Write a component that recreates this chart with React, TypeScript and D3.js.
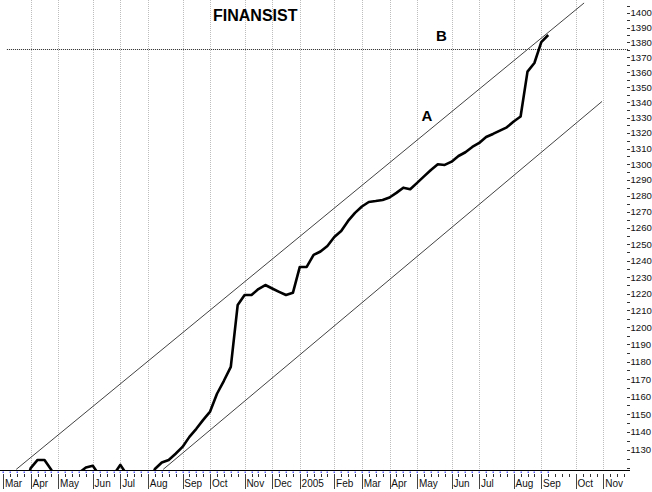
import { useRef, useEffect } from 'react';
import * as d3 from 'd3';

// weekly slots on the time axis, Mar 2004 .. Nov 2005
const WEEK_COUNT = 91;

const MONTH_LABELS = ['Mar', 'Apr', 'May', 'Jun', 'Jul', 'Aug', 'Sep', 'Oct', 'Nov', 'Dec', '2005',
  'Feb', 'Mar', 'Apr', 'May', 'Jun', 'Jul', 'Aug', 'Sep', 'Oct', 'Nov'];
const MONTH_WEEKS = [0, 4, 8, 13, 17, 21, 26, 30, 35, 39, 43, 48, 52, 56, 60, 65, 69, 74, 78, 83, 87];

// weekly closes, one per week starting at week 0 (values under ~1120 fall off the chart)
const CLOSE = [
  1100, 1102, 1105, 1108, 1120, 1124.5, 1124.5, 1119, 1108, 1105,
  1108, 1117.4, 1120.4, 1121.3, 1115.8, 1110, 1116.3, 1121.8, 1116, 1104,
  1102, 1110, 1119.5, 1123.1, 1124.5, 1127.9, 1131.7, 1137.3, 1141.8, 1146.8,
  1151.5, 1161.6, 1169, 1177, 1213.3, 1219.2, 1219.2, 1222.8, 1225.2, 1223.1,
  1221.1, 1219.2, 1220.5, 1236.1, 1236.1, 1243.4, 1245.5, 1248.9, 1254.4, 1258.1,
  1264.3, 1269.3, 1273.3, 1276.1, 1276.7, 1277.4, 1278.9, 1281.8, 1285.1, 1284.1,
  1288.1, 1292.2, 1296.3, 1299.9, 1299.5, 1301.6, 1305.2, 1307.6, 1311, 1313.6,
  1317.4, 1319.4, 1321.6, 1323.7, 1327.5, 1330.7, 1360.3, 1366.1, 1380.2, 1385,
];

// channel lines: [week, value] end points
const CHANNEL_UPPER: [number, number][] = [[1.9, 1119.3], [84.2, 1406.9]];
const CHANNEL_LOWER: [number, number][] = [[23.2, 1119.3], [86.8, 1340.6]];

// horizontal level "B"
const LEVEL_B = 1375.5;
const LEVEL_B_WEEKS = [0.55, 90.6];

const Y_LABELS = d3.range(1130, 1401, 10);
const Y_MINOR = d3.range(1120, 1406, 5);

const FONT = 'Liberation Sans, Arial, Helvetica, sans-serif';

export default function App() {
  const svgRef = useRef<SVGSVGElement>(null);

  useEffect(() => {
    if (!svgRef.current) return;
    const width = 652;
    const h = 492;
    const plotBottom = 470;
    const plotRight = 630;

    const svg = d3.select(svgRef.current);
    svg.selectAll('*').remove();
    svg.attr('width', width).attr('height', h).attr('viewBox', `0 0 ${width} ${h}`);

    svg.append('rect').attr('width', width).attr('height', h).attr('fill', '#fff');

    const x = d3.scaleLinear().domain([0, 90]).range([3.1, 624.1]);
    const y = d3.scaleLog().domain([1130, 1400]).range([450, 13]);
    const crisp = (v: number) => Math.round(v) + 0.5;

    // Grid (first month sits on the left edge, no line there)
    svg.append('g')
      .selectAll('line')
      .data(MONTH_WEEKS.slice(1))
      .join('line')
      .attr('x1', d => crisp(x(d))).attr('x2', d => crisp(x(d)))
      .attr('y1', 0).attr('y2', plotBottom)
      .attr('stroke', '#bdbdbd')
      .attr('stroke-dasharray', '1,1');

    svg.append('defs').append('clipPath').attr('id', 'plot-clip')
      .append('rect').attr('x', 0).attr('y', 0).attr('width', plotRight + 2).attr('height', plotBottom);

    const plot = svg.append('g').attr('clip-path', 'url(#plot-clip)');

    const seg = d3.line<[number, number]>().x(d => x(d[0])).y(d => y(d[1]));

    // Channel
    [CHANNEL_UPPER, CHANNEL_LOWER].forEach(pts => {
      plot.append('path')
        .attr('d', seg(pts))
        .attr('fill', 'none')
        .attr('stroke', '#111')
        .attr('stroke-width', 0.8);
    });

    // Level B
    plot.append('line')
      .attr('x1', x(LEVEL_B_WEEKS[0])).attr('x2', x(LEVEL_B_WEEKS[1]))
      .attr('y1', crisp(y(LEVEL_B))).attr('y2', crisp(y(LEVEL_B)))
      .attr('stroke', '#222')
      .attr('stroke-dasharray', '1,1');

    // Close line
    const line = d3.line<number>()
      .x((_, i) => x(i))
      .y(d => y(d));

    plot.append('path')
      .datum(CLOSE)
      .attr('fill', 'none')
      .attr('stroke', '#000')
      .attr('stroke-width', 2.6)
      .attr('stroke-linejoin', 'round')
      .attr('d', line);

    // Bottom axis
    svg.append('line')
      .attr('x1', 0).attr('x2', plotRight)
      .attr('y1', plotBottom + 0.5).attr('y2', plotBottom + 0.5)
      .attr('stroke', '#000');

    // blue dots per data week
    svg.append('g')
      .selectAll('rect')
      .data(CLOSE.map((_, i) => i))
      .join('rect')
      .attr('x', d => Math.round(x(d)) - 0.5)
      .attr('y', plotBottom + 1.5)
      .attr('width', 1.5).attr('height', 1.5)
      .attr('fill', '#5a5aff');

    // weekly ticks
    svg.append('g')
      .selectAll('line')
      .data(d3.range(WEEK_COUNT))
      .join('line')
      .attr('x1', d => crisp(x(d))).attr('x2', d => crisp(x(d)))
      .attr('y1', plotBottom + 4).attr('y2', plotBottom + 7)
      .attr('stroke', '#333');

    // month ticks + labels
    const months = svg.append('g');
    months.selectAll('line')
      .data(MONTH_WEEKS)
      .join('line')
      .attr('x1', d => crisp(x(d))).attr('x2', d => crisp(x(d)))
      .attr('y1', plotBottom + 4).attr('y2', plotBottom + 19)
      .attr('stroke', '#444');
    months.selectAll('text')
      .data(MONTH_WEEKS)
      .join('text')
      .attr('x', d => x(d) + 1.8)
      .attr('y', plotBottom + 16.5)
      .attr('font-family', FONT)
      .attr('font-size', '10px')
      .attr('fill', '#111')
      .text((_, i) => MONTH_LABELS[i]);

    // Right axis
    svg.append('g')
      .selectAll('line')
      .data(Y_MINOR)
      .join('line')
      .attr('x1', 627).attr('x2', 630)
      .attr('y1', d => crisp(y(d))).attr('y2', d => crisp(y(d)))
      .attr('stroke', '#333');

    svg.append('g')
      .selectAll('text')
      .data(Y_LABELS)
      .join('text')
      .attr('x', 630.5)
      .attr('y', d => y(d))
      .attr('dy', '0.36em')
      .attr('font-family', FONT)
      .attr('font-size', '9.6px')
      .attr('fill', '#111')
      .text(d => d);

    // Labels
    svg.append('text')
      .attr('x', 213).attr('y', 21)
      .attr('font-family', FONT).attr('font-weight', 'bold').attr('font-size', '16px')
      .text('FINANSIST');

    svg.append('text')
      .attr('x', 436).attr('y', 40.5)
      .attr('font-family', FONT).attr('font-weight', 'bold').attr('font-size', '15px')
      .text('B');

    svg.append('text')
      .attr('x', 421.5).attr('y', 120.5)
      .attr('font-family', FONT).attr('font-weight', 'bold').attr('font-size', '15px')
      .text('A');
  }, []);

  return <svg ref={svgRef} style={{ position: 'absolute', left: 0, top: 0, display: 'block' }} />;
}
